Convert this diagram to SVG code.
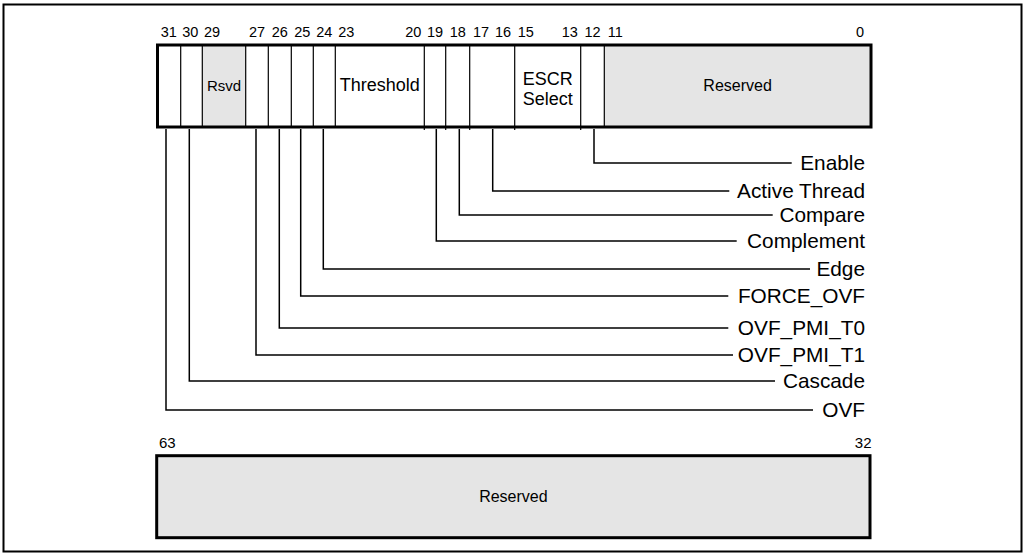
<svg xmlns="http://www.w3.org/2000/svg" width="1027" height="555" viewBox="0 0 1027 555">
<style>
text{font-family:"Liberation Sans",Arial,sans-serif;fill:#000}
.bit{font-size:14.5px;text-anchor:middle}
.lbl{font-size:20.8px;text-anchor:end}
.fld{font-size:18px;text-anchor:middle}
.box{fill:none;stroke:#000;stroke-width:3}
.div{stroke:#000;stroke-width:1.2}
.gray{fill:#e5e5e5}
.lead{fill:none;stroke:#000;stroke-width:1.5}
</style>
<rect x="3.5" y="4.5" width="1018" height="547" fill="#fff" stroke="#000" stroke-width="2"/>

<g id="register-low">
<rect x="157.5" y="45" width="713.5" height="82" fill="#fff"/>
<rect class="gray" x="202.3" y="45" width="43.4" height="82"/>
<rect class="gray" x="604.3" y="45" width="266.7" height="82"/>
<g class="div">
<line x1="180.7" y1="45" x2="180.7" y2="127"/>
<line x1="202.3" y1="45" x2="202.3" y2="127"/>
<line x1="245.7" y1="45" x2="245.7" y2="127"/>
<line x1="268.3" y1="45" x2="268.3" y2="127"/>
<line x1="291.3" y1="45" x2="291.3" y2="127"/>
<line x1="313.3" y1="45" x2="313.3" y2="127"/>
<line x1="335.3" y1="45" x2="335.3" y2="127"/>
<line x1="424.3" y1="45" x2="424.3" y2="130"/>
<line x1="445.7" y1="45" x2="445.7" y2="130"/>
<line x1="469.7" y1="45" x2="469.7" y2="130"/>
<line x1="514.7" y1="45" x2="514.7" y2="130"/>
<line x1="580.7" y1="45" x2="580.7" y2="130"/>
<line x1="604.3" y1="45" x2="604.3" y2="127"/>
</g>
<rect class="box" x="157.5" y="45" width="713.5" height="82"/>
<text x="224" y="91" style="font-size:15px;text-anchor:middle">Rsvd</text>
<text class="fld" x="379.8" y="91">Threshold</text>
<text class="fld" x="547.7" y="84.5">ESCR</text>
<text class="fld" x="547.7" y="105">Select</text>
<text x="737.6" y="90.7" style="font-size:16px;text-anchor:middle">Reserved</text>
<g class="bit">
<text x="168.8" y="37.3">31</text>
<text x="190.3" y="37.3">30</text>
<text x="212" y="37.3">29</text>
<text x="257" y="37.3">27</text>
<text x="279.8" y="37.3">26</text>
<text x="302.3" y="37.3">25</text>
<text x="324.3" y="37.3">24</text>
<text x="346.3" y="37.3">23</text>
<text x="413.3" y="37.3">20</text>
<text x="435" y="37.3">19</text>
<text x="457.7" y="37.3">18</text>
<text x="481" y="37.3">17</text>
<text x="503" y="37.3">16</text>
<text x="525.7" y="37.3">15</text>
<text x="569.7" y="37.3">13</text>
<text x="592.5" y="37.3">12</text>
<text x="615.3" y="37.3">11</text>
<text x="860" y="37.3">0</text>
</g>
</g>

<g id="connectors">
<path class="lead" d="M594 129V163H791.7"/>
<path class="lead" d="M492.7 129V191H729.3"/>
<path class="lead" d="M459.3 129V215H772.7"/>
<path class="lead" d="M436.3 129V241H736.7"/>
<path class="lead" d="M323.3 129V269H810"/>
<path class="lead" d="M300.7 129V296H728.3"/>
<path class="lead" d="M279.3 129V328H728.3"/>
<path class="lead" d="M256 129V355H733"/>
<path class="lead" d="M189.3 129V381H775"/>
<path class="lead" d="M166 129V410H813"/>
</g>

<g id="labels">
<text id="lbl-enable" class="lbl" x="865" y="170">Enable</text>
<text id="lbl-active-thread" class="lbl" x="865" y="198">Active Thread</text>
<text id="lbl-compare" class="lbl" x="865" y="222">Compare</text>
<text id="lbl-complement" class="lbl" x="865" y="248">Complement</text>
<text id="lbl-edge" class="lbl" x="865" y="276">Edge</text>
<text id="lbl-force-ovf" class="lbl" x="865" y="303">FORCE_OVF</text>
<text id="lbl-ovf-pmi-t0" class="lbl" x="865" y="335">OVF_PMI_T0</text>
<text id="lbl-ovf-pmi-t1" class="lbl" x="865" y="362">OVF_PMI_T1</text>
<text id="lbl-cascade" class="lbl" x="865" y="388">Cascade</text>
<text id="lbl-ovf" class="lbl" x="865" y="417">OVF</text>
</g>

<g id="register-high">
<rect class="gray" x="156.7" y="455.7" width="713.3" height="82"/>
<rect class="box" x="156.7" y="455.7" width="713.3" height="82"/>
<text x="159" y="448" style="font-size:15px">63</text>
<text x="871.5" y="448" style="font-size:15px;text-anchor:end">32</text>
<text x="513.4" y="502" style="font-size:16px;text-anchor:middle">Reserved</text>
</g>
</svg>
